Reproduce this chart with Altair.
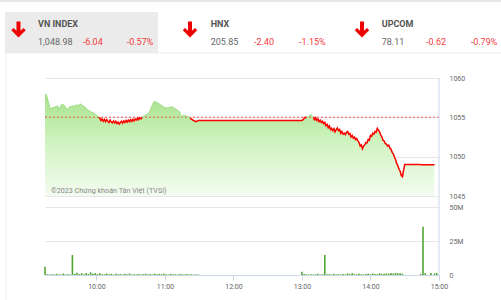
import altair as alt
import pandas as pd

# ---------------- data ----------------
REF = 1055.02  # previous close (reference line)

index_names = ["VN INDEX", "HNX", "UPCOM"]
index_values = ["1,048.98", "205.85", "78.11"]
index_changes = ["-6.04", "-2.40", "-0.62"]
index_pcts = ["-0.57%", "-1.15%", "-0.79%"]

# morning session, one point per minute from 9:15 (555) to 11:30 (690)
am_start = 555
am_prices = [
    1058.0, 1057.9, 1057.5, 1056.9, 1056.4, 1056.0, 1056.2, 1056.3, 1056.1, 1056.4,
    1056.3, 1056.5, 1056.0, 1056.2, 1056.5, 1056.7, 1056.6, 1056.5, 1056.3, 1056.1,
    1056.0, 1056.2, 1056.4, 1056.3, 1056.5, 1056.4, 1056.5, 1056.6, 1056.45, 1056.6,
    1056.55, 1056.7, 1056.65, 1056.5, 1056.4, 1056.3, 1056.1, 1056.0, 1055.9, 1055.85,
    1055.7, 1055.65, 1055.6, 1055.5, 1055.4, 1055.3, 1055.2, 1055.0, 1054.9, 1054.6,
    1054.8, 1054.5, 1054.75, 1054.45, 1054.7, 1054.5, 1054.35, 1054.65, 1054.4, 1054.3,
    1054.55, 1054.3, 1054.5, 1054.2, 1054.4, 1054.15, 1054.35, 1054.5, 1054.25, 1054.55,
    1054.35, 1054.6, 1054.4, 1054.65, 1054.45, 1054.7, 1054.5, 1054.75, 1054.55, 1054.8,
    1054.65, 1054.9, 1054.7, 1054.95, 1054.8, 1055.0, 1055.1, 1055.2, 1055.3, 1055.35,
    1055.45, 1055.6, 1055.8, 1056.2, 1056.6, 1056.9, 1057.0, 1056.95, 1056.85, 1056.8,
    1056.7, 1056.6, 1056.55, 1056.4, 1056.3, 1056.2, 1056.25, 1056.15, 1056.3, 1056.2,
    1056.35, 1056.3, 1056.35, 1056.2, 1056.1, 1056.05, 1055.9, 1055.8, 1055.7, 1055.2,
    1055.0, 1055.3, 1055.25, 1055.2, 1055.15, 1055.1, 1055.05, 1054.9, 1054.8, 1054.7,
    1054.6, 1054.55, 1054.45, 1054.5, 1054.6, 1054.6,
]
# afternoon session, one point per minute from 13:00 (780) to 14:30 (870)
pm_start = 780
pm_prices = [
    1054.6, 1054.7, 1054.9, 1055.0, 1054.95, 1055.05, 1055.15, 1055.3, 1055.35, 1055.1,
    1055.0, 1054.7, 1054.95, 1054.6, 1054.8, 1054.45, 1054.65, 1054.35, 1054.5, 1054.2,
    1054.35, 1053.95, 1054.1, 1053.7, 1053.9, 1053.45, 1053.6, 1053.3, 1053.55, 1053.15,
    1053.45, 1053.65, 1053.3, 1053.45, 1052.95, 1053.2, 1052.85, 1053.0, 1052.8, 1053.1,
    1053.2, 1052.85, 1052.95, 1052.5, 1052.7, 1052.35, 1052.5, 1052.15, 1052.3, 1052.0,
    1051.8, 1051.35, 1051.5, 1051.0, 1051.35, 1051.5, 1051.8, 1051.75, 1052.2, 1052.1,
    1052.7, 1052.6, 1053.0, 1052.85, 1053.2, 1053.1, 1053.6, 1053.35, 1053.15, 1052.75,
    1052.5, 1052.1, 1052.0, 1051.65, 1051.6, 1051.35, 1051.45, 1051.1, 1050.95, 1050.55,
    1050.35, 1049.95, 1049.65, 1049.1, 1048.85, 1048.4, 1048.15, 1047.6, 1047.45, 1048.3,
    1049.0,
]
close_minutes = [883, 885, 896]
close_prices = [1049.0, 1048.98, 1048.98]

# volume (millions), every 2 minutes
vol_am_minutes = list(range(555, 690, 2))
vol_am = [
    6.1, 0.5, 0.4, 0.6, 0.4, 0.9, 0.5, 0.4, 1.1, 0.5,
    0.6, 0.4, 14.7, 0.9, 1.6, 0.7, 1.3, 0.6, 1.5, 0.8,
    2.0, 0.9, 1.4, 0.7, 1.2, 0.5, 0.6, 1.1, 0.5, 0.8,
    0.4, 1.0, 0.5, 0.7, 0.4, 0.9, 0.5, 1.2, 0.4, 0.6,
    0.5, 0.8, 0.4, 0.6, 1.0, 0.5, 0.7, 0.4, 1.1, 0.5,
    0.8, 0.6, 1.0, 0.5, 0.4, 0.9, 0.5, 0.6, 0.4, 0.7,
    0.5, 0.4, 0.8, 0.4, 0.5, 0.3, 0.4, 0.3,
]
vol_pm_minutes = list(range(780, 869, 2))
vol_pm = [
    2.4, 0.8, 0.5, 0.4, 0.6, 0.4, 0.5, 0.9, 0.4, 0.6,
    14.7, 0.5, 0.7, 0.4, 0.9, 0.5, 0.6, 0.4, 0.8, 0.5,
    1.2, 0.6, 1.4, 0.7, 0.5, 0.9, 0.6, 0.4, 0.7, 1.0,
    0.5, 1.1, 0.8, 0.6, 1.3, 0.7, 0.9, 1.2, 1.0, 1.4,
    1.1, 1.5, 1.2, 1.3, 0.9,
]
vol_close_minutes = [884, 886, 888, 893, 896, 898]
vol_close = [0.8, 35.5, 1.4, 1.5, 1.1, 1.5]

# ---------------- tables ----------------
minutes = (list(range(am_start, am_start + len(am_prices)))
           + list(range(pm_start, pm_start + len(pm_prices)))
           + close_minutes)
prices = am_prices + pm_prices + close_prices
price_df = pd.DataFrame({"minute": minutes, "price": prices})
below = price_df["price"] <= REF
seg = (below != below.shift()).cumsum()
red_df = price_df[below].assign(seg=seg[below])

vol_df = pd.DataFrame({
    "minute": vol_am_minutes + vol_pm_minutes + vol_close_minutes,
    "vol": vol_am + vol_pm + vol_close,
})

# ---------------- scales / axes ----------------
W, H = 394, 197
FONT = "Roboto"
x_axis = alt.Axis(values=[600, 660, 720, 780, 840, 900],
                  labelExpr="floor(datum.value/60) + ':00'",
                  grid=False, tickSize=5, tickColor="#ccd6eb", domainColor="#ccd6eb",
                  labelFontSize=7, labelColor="#666666", labelPadding=2, labelFont=FONT,
                  labelFlush=False, title="")
X = alt.X("minute:Q",
          scale=alt.Scale(domain=[555, 900], nice=False, zero=False, padding=0),
          axis=x_axis, title="")

price_scale = alt.Scale(domain=[1045, 1060], range=[118, 0], nice=False, zero=False)
price_axis = alt.Axis(orient="right", values=[1045, 1050, 1055, 1060], grid=True,
                      gridColor="#e6e6e6", ticks=False, domain=False, labelAlign="left",
                      labelPadding=10, labelFontSize=7, labelColor="#666666",
                      labelBaseline="middle", labelFlush=False, format="d",
                      labelFont=FONT, title="")
vol_scale = alt.Scale(domain=[0, 50], range=[197, 129], nice=False, padding=0)
vol_axis = alt.Axis(orient="right", values=[0, 25, 50], grid=True, gridColor="#e6e6e6",
                    ticks=False, domain=False, labelAlign="left", labelPadding=10,
                    labelFontSize=7, labelColor="#666666", labelBaseline="middle",
                    labelFlush=False, labelFont=FONT,
                    labelExpr="datum.value == 0 ? '0' : datum.value + 'M'", title="")

gradient = alt.Gradient(
    gradient="linear",
    stops=[alt.GradientStop(color="#f4fcf1", offset=0),
           alt.GradientStop(color="#d2f4c3", offset=0.5),
           alt.GradientStop(color="#a6e28b", offset=1)],
    x1=1, x2=1, y1=1, y2=0,
)

area = alt.Chart(price_df).mark_area(color=gradient).encode(
    x=X, y=alt.Y("price:Q", scale=price_scale, axis=price_axis, title=""),
    y2=alt.datum(1045),
)
ref_rule = alt.Chart(pd.DataFrame({"price": [REF]})).mark_rule(
    color="#f03030", strokeDash=[2, 2], strokeWidth=0.8
).encode(y=alt.Y("price:Q", scale=price_scale, axis=price_axis, title=""))
green_line = alt.Chart(price_df).mark_line(color="#9edb83", strokeWidth=1).encode(
    x=X, y=alt.Y("price:Q", scale=price_scale, axis=price_axis, title=""))
red_line = alt.Chart(red_df).mark_line(color="#ff0000", strokeWidth=1.5).encode(
    x=X, y=alt.Y("price:Q", scale=price_scale, axis=price_axis, title=""),
    detail="seg:N")
copyright_txt = alt.Chart(pd.DataFrame({"t": ["©2023 Chứng khoán Tân Việt (TVSI)"]})).mark_text(
    align="left", baseline="alphabetic", font=FONT, fontSize=7.2, color="#888888"
).encode(text="t:N", x=alt.value(6), y=alt.value(115))

price_layer = alt.layer(area, ref_rule, green_line, red_line, copyright_txt)

bars = alt.Chart(vol_df).mark_bar(size=1.6, color="#52a635").encode(
    x=X, y=alt.Y("vol:Q", scale=vol_scale, axis=vol_axis, title=""))
vol_layer = alt.layer(bars)

one = pd.DataFrame({"a": [0]})

def rect(x1, x2, y1, y2, color):
    return alt.Chart(one).mark_rect(color=color).encode(
        x=alt.value(x1), x2=alt.value(x2), y=alt.value(y1), y2=alt.value(y2))

def text(s, x, y, color, weight="normal", size=9):
    return alt.Chart(pd.DataFrame({"t": [s]})).mark_text(
        align="left", baseline="alphabetic", font=FONT, fontSize=size,
        fontWeight=weight, color=color
    ).encode(text="t:N", x=alt.value(x), y=alt.value(y))

ARROW = "M-0.25,-1 L0.25,-1 L0.25,0.17 L0.62,-0.2 L0.9,0.1 L0,1 L-0.9,0.1 L-0.62,-0.2 L-0.25,0.17 Z"

def arrow(x, y):
    return alt.Chart(one).mark_point(shape=ARROW, filled=True, size=256,
                                     color="#ee0000", opacity=1, strokeWidth=0).encode(
        x=alt.value(x), y=alt.value(y))

decor = [
    rect(-45, 456, -78, -76, "#e6e6e6"),
    rect(-40, 113, -66, -25, "#ebebeb"),
    rect(-40, 456, -25.5, -24.5, "#eeeeee"),
    rect(-39.5, -38.5, -25, 222, "#eeeeee"),
    rect(393.5, 394.5, 0, 197, "#ccd6eb"),
]
RED = "#f23b3b"
block_x = [-7, 165.7, 336.7]
change_dx = [44.7, 43.3, 44.3]
pct_dx = [88.7, 88.3, 89.0]
arrow_x = [-26.5, 145, 317]
for i in range(3):
    decor.append(arrow(arrow_x[i], -48.5))
    decor.append(text(index_names[i], block_x[i], -51.5, "#555555", "bold", 9))
    decor.append(text(index_values[i], block_x[i], -33, "#666666"))
    decor.append(text(index_changes[i], block_x[i] + change_dx[i], -33, RED))
    decor.append(text(index_pcts[i], block_x[i] + pct_dx[i], -33, RED))

chart = alt.layer(price_layer, vol_layer, *decor).resolve_scale(
    y="independent"
).properties(
    width=W, height=H,
    padding={"left": 45, "top": 78, "right": 62, "bottom": 25},
    autosize=alt.AutoSizeParams(type="none"),
    background="white",
).configure_view(strokeWidth=0)

chart.save("out.html", embed_options={"renderer": "svg", "actions": False})
